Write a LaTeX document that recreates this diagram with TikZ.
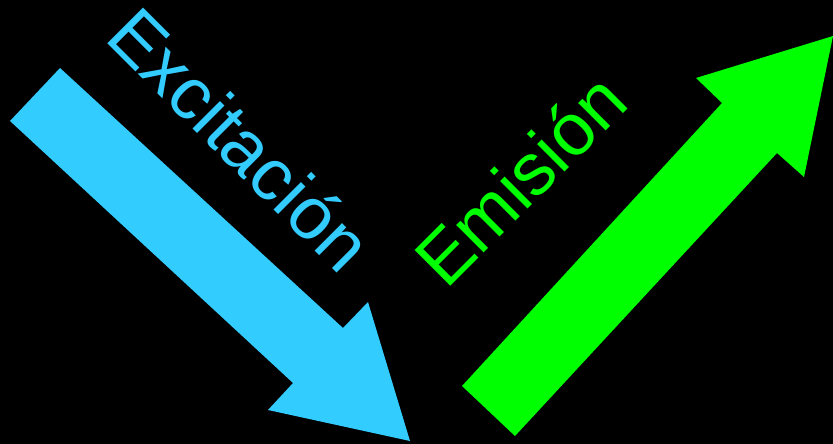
\documentclass[tikz,border=0pt]{standalone}
\usepackage{fontspec}
\setmainfont{Liberation Sans}
\definecolor{exblue}{RGB}{51,204,255}
\definecolor{emgreen}{RGB}{0,255,0}
\begin{document}
\begin{tikzpicture}[x=1pt,y=-1pt,
  lbl/.style={inner sep=0pt,font=\fontsize{73.5}{88}\selectfont}]
\fill[black] (0,0) rectangle (833,444);
\useasboundingbox (0,0) rectangle (833,444);
% blue arrow (excitation)
\fill[exblue] (10,121) -- (60,68) -- (343,328) -- (368,302) -- (410,441) -- (268,410) -- (293,383) -- cycle;
% green arrow (emission)
\fill[emgreen] (462,386) -- (722,103) -- (696,78) -- (833,36) -- (804,177) -- (777,153) -- (515,436) -- cycle;
\node[lbl,text=exblue,anchor=base west,rotate=-45] (exc) at (103,39) {Excitación};
\node[lbl,text=emgreen,anchor=base west,rotate=45] (emi) at (446,291) {Emisión};
\end{tikzpicture}
\end{document}
